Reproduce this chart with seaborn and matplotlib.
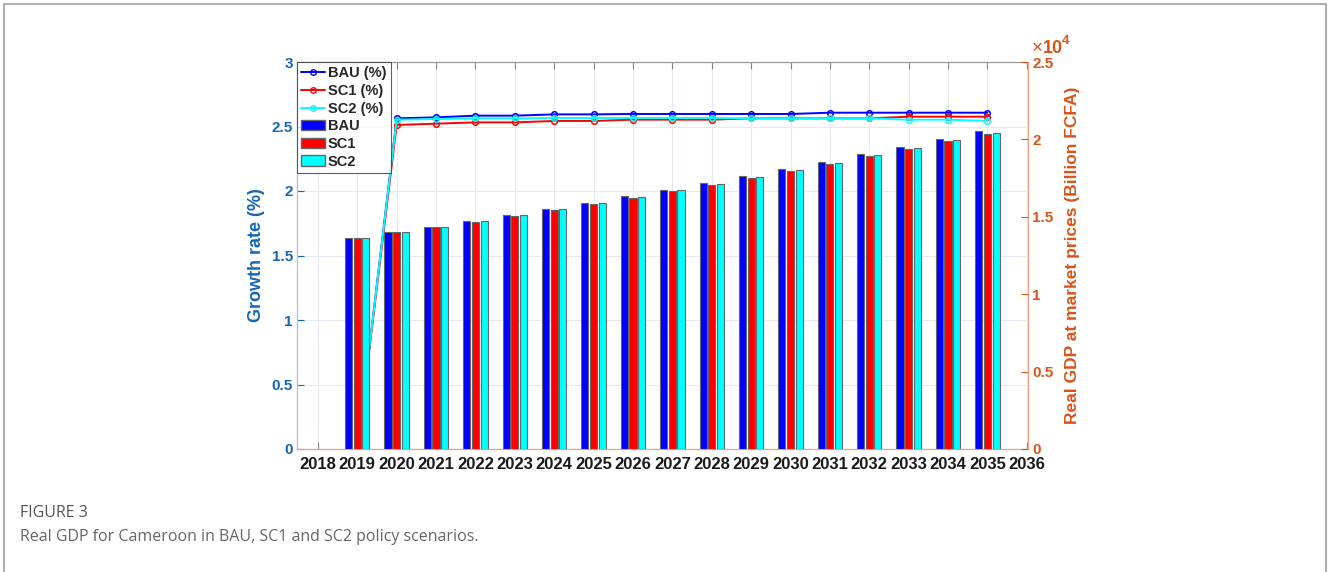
import matplotlib
matplotlib.use('Agg')
from matplotlib import pyplot as plt
from matplotlib.lines import Line2D
from matplotlib.patches import Patch
from matplotlib.ticker import FuncFormatter
from matplotlib.transforms import offset_copy
import pandas as pd
import seaborn as sns

years = list(range(2019, 2036))
scenarios = ['BAU', 'SC1', 'SC2']
colors = {'BAU': '#0000ff', 'SC1': '#ff0000', 'SC2': '#00ffff'}

# real GDP (billion FCFA), right axis
gdp_bau = [13640, 14000, 14370, 14740, 15110, 15500, 15900, 16320, 16750,
           17190, 17640, 18100, 18550, 19030, 19520, 20040, 20540]
gdp_sc1 = [13640, 14000, 14350, 14680, 15060, 15430, 15840, 16230, 16640,
           17080, 17510, 17970, 18420, 18900, 19370, 19870, 20370]
gdp_sc2 = [13640, 14000, 14370, 14740, 15120, 15500, 15890, 16280, 16710,
           17140, 17600, 18030, 18490, 18960, 19460, 19950, 20430]

# growth rate (%), left axis
gr_bau = [0, 2.563, 2.571, 2.584, 2.584, 2.594, 2.594, 2.597, 2.597,
          2.597, 2.597, 2.597, 2.607, 2.607, 2.607, 2.607, 2.607]
gr_sc1 = [0, 2.512, 2.522, 2.532, 2.532, 2.543, 2.543, 2.553, 2.553,
          2.553, 2.563, 2.563, 2.563, 2.563, 2.576, 2.576, 2.576]
gr_sc2 = [0, 2.553, 2.558, 2.563, 2.563, 2.566, 2.566, 2.566, 2.566,
          2.566, 2.563, 2.563, 2.563, 2.563, 2.553, 2.553, 2.543]

x_ticks = list(range(2018, 2037))

gdp = {'BAU': gdp_bau, 'SC1': gdp_sc1, 'SC2': gdp_sc2}
gr = {'BAU': gr_bau, 'SC1': gr_sc1, 'SC2': gr_sc2}

df_gdp = pd.concat([pd.DataFrame({'year': years, 'gdp': gdp[s], 'scenario': s}) for s in scenarios])

sns.set_style('white')
plt.rcParams['font.family'] = ['Liberation Sans', 'DejaVu Sans']

blue = '#1467b3'
orange = '#d95319'

fig = plt.figure(figsize=(13.28, 5.72), dpi=100)
ax = fig.add_axes([297 / 1328, 123 / 572, 731 / 1328, 387 / 572])
ax2 = ax.twinx()

# growth lines (left axis, drawn beneath the bars)
for s in scenarios:
    sns.lineplot(x=years, y=gr[s], ax=ax, color=colors[s], marker='o',
                 markersize=4, markerfacecolor='none', markeredgecolor=colors[s],
                 markeredgewidth=1.1, linewidth=1.4)

# GDP bars (right axis)
sns.barplot(data=df_gdp, x='year', y='gdp', hue='scenario', ax=ax2,
            native_scale=True, width=0.66, gap=0.18, palette=colors,
            edgecolor='#666666', linewidth=0.8, legend=False, saturation=1)

ax.set_xlim(2017.47, 2036.03)
ax.set_ylim(0, 3)
ax2.set_ylim(0, 25000)
ax.set_xticks(x_ticks)
ax.set_xticklabels([str(y) for y in x_ticks])
ax.set_yticks([0, 0.5, 1, 1.5, 2, 2.5, 3])
ax.set_yticklabels(['0', '0.5', '1', '1.5', '2', '2.5', '3'])
ax2.set_yticks([0, 5000, 10000, 15000, 20000, 25000])
ax2.yaxis.set_major_formatter(FuncFormatter(lambda v, p: '%g' % (v / 1e4)))
ax2.set_xlabel('')
ax.set_xlabel('')

ax.grid(True, color='#e4ebf2', linewidth=0.8)
ax.set_axisbelow(True)

ax.tick_params(axis='x', top=True, bottom=True, direction='in', length=5,
               color='#888888', labelsize=12, labelcolor='#1a1a1a', pad=6)
ax.tick_params(axis='y', direction='in', length=5, color=blue,
               labelsize=11, labelcolor=blue, pad=3)
ax2.tick_params(axis='y', direction='in', length=5, color=orange,
                labelsize=11, labelcolor=orange, pad=3)
for lab in ax.get_xticklabels() + ax.get_yticklabels() + ax2.get_yticklabels():
    lab.set_fontweight('bold')

for sp in ['left', 'top', 'bottom']:
    ax2.spines[sp].set_visible(False)
ax.spines['right'].set_visible(False)
ax.spines['left'].set_color('#9cc3e6')
ax.spines['top'].set_color('#9a9a9a')
ax.spines['bottom'].set_color('#e8a283')
ax2.spines['right'].set_color('#e8a283')
for sp in ax.spines.values():
    sp.set_linewidth(0.9)
ax2.spines['right'].set_linewidth(0.9)

ax.set_ylabel('Growth rate (%)', color=blue, fontsize=13, fontweight='bold', labelpad=5)
ax2.set_ylabel('Real GDP at market prices (Billion FCFA)', color=orange,
               fontsize=12.5, fontweight='bold', labelpad=8)

# x10^4 multiplier above the right axis
base = offset_copy(ax2.transAxes, fig=fig, x=4, y=5, units='dots')
ax2.text(1.0, 1.0, '\u00d7', transform=base, color=orange, fontsize=13.5,
         ha='left', va='bottom')
ax2.text(1.0, 1.0, '10', transform=offset_copy(base, fig=fig, x=11, y=0, units='dots'),
         color=orange, fontsize=13, fontweight='bold', ha='left', va='bottom')
ax2.text(1.0, 1.0, '4', transform=offset_copy(base, fig=fig, x=30, y=10, units='dots'),
         color=orange, fontsize=9.5, fontweight='bold', ha='left', va='bottom')

handles = [Line2D([], [], color=colors[s], marker='o', markersize=4, markerfacecolor='none',
                  linewidth=1.4, label=s + ' (%)') for s in scenarios]
handles += [Patch(facecolor=colors[s], edgecolor='#666666', label=s) for s in scenarios]
leg = ax2.legend(handles=handles, loc='upper left', bbox_to_anchor=(0.0, 1.0),
                 borderaxespad=0.0, frameon=True, fancybox=False, handlelength=1.6,
                 handletextpad=0.2, labelspacing=0.25, borderpad=0.3,
                 prop={'weight': 'bold', 'size': 10.5})
leg.get_frame().set_edgecolor('#333333')
leg.get_frame().set_linewidth(0.8)

# caption and frame
fig.text(20 / 1328, 1 - 513 / 572, 'FIGURE 3', fontsize=11.5, color='#555555',
         family=['Open Sans', 'DejaVu Sans'], va='center')
fig.text(20 / 1328, 1 - 537 / 572, 'Real GDP for Cameroon in BAU, SC1 and SC2 policy scenarios.',
         fontsize=11.5, color='#666666', family=['Open Sans', 'DejaVu Sans'], va='center')
fig.add_artist(Line2D([4 / 1328, 4 / 1328], [0, 1 - 4 / 572], transform=fig.transFigure,
                      color='#b0b0b0', linewidth=1.5))
fig.add_artist(Line2D([4 / 1328, 1326 / 1328], [1 - 4 / 572, 1 - 4 / 572], transform=fig.transFigure,
                      color='#b0b0b0', linewidth=1.5))
fig.add_artist(Line2D([1326 / 1328, 1326 / 1328], [0, 1 - 4 / 572], transform=fig.transFigure,
                      color='#b0b0b0', linewidth=1.5))

fig.savefig('out.png', dpi=100)
